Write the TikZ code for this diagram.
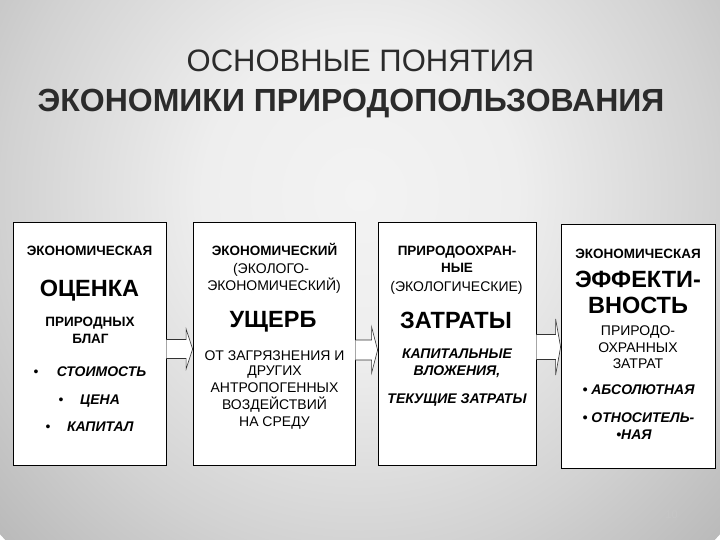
\documentclass[tikz,border=0pt]{standalone}
\usepackage{fontspec}
\setmainfont{Liberation Sans}
\usetikzlibrary{calc}
\definecolor{bgA}{HTML}{F3F3F3}
\definecolor{bgA2}{HTML}{EEEEEE}
\definecolor{bgB}{HTML}{D2D2D2}
\definecolor{bgC}{HTML}{B0B0B0}
\definecolor{bgD}{HTML}{9C9C9C}
\definecolor{bgE}{HTML}{8E8E8E}
\definecolor{titlecol}{HTML}{2B2B2B}
\definecolor{pagecol}{HTML}{C6C6C6}
\pgfdeclareradialshading{bgshade}{\pgfpoint{0bp}{0bp}}{color(0bp)=(bgA); color(8bp)=(bgA2); color(18bp)=(bgB); color(28bp)=(bgC); color(36bp)=(bgD); color(50bp)=(bgE)}
\newcommand\blkarrow[6]{%
  \coordinate (ay) at (0,#3);
  \draw[blockarrow] ($(#1.east |- ay)+(0,-#4)$) -- ($(#2.west |- ay)+(-#6,-#4)$) -- ($(#2.west |- ay)+(-#6,-#5)$) -- (#2.west |- ay) -- ($(#2.west |- ay)+(-#6,#5)$) -- ($(#2.west |- ay)+(-#6,#4)$) -- ($(#1.east |- ay)+(0,#4)$);}
\tikzset{
  box/.style={draw=black, line width=0.8pt, fill=white, inner sep=0pt},
  blockarrow/.style={draw=black!80, line width=0.6pt, fill=white, line join=miter},
  tb/.style={anchor=base, inner sep=0pt, font=\fontsize{13.5}{14}\selectfont\bfseries},
  tr/.style={anchor=base, inner sep=0pt, font=\fontsize{14}{15}\selectfont},
  tbi/.style={anchor=base, inner sep=0pt, font=\fontsize{14}{15}\selectfont\bfseries\itshape},
  tL/.style={anchor=base, inner sep=0pt, font=\fontsize{23.5}{25}\selectfont\bfseries},
  title1/.style={anchor=base, inner sep=0pt, text=titlecol, font=\fontsize{31}{33}\selectfont},
  title2/.style={anchor=base, inner sep=0pt, text=titlecol, font=\fontsize{32}{34}\selectfont\bfseries},
}
\begin{document}
\begin{tikzpicture}[x=1pt,y=-1pt]
\useasboundingbox (0,0) rectangle (720,540);
\begin{scope}
\clip (0,0) rectangle (720,540);
\shade[shading=bgshade] (360,195) ellipse [x radius=490, y radius=500];
\end{scope}
% title
\node[title1] (ttl1) at (360.5,72) {ОСНОВНЫЕ ПОНЯТИЯ};
\node[title2] (ttl2) at (351,112) {ЭКОНОМИКИ ПРИРОДОПОЛЬЗОВАНИЯ};
% boxes
\node[box, minimum width=153pt, minimum height=243pt] (b1) at (89.5,343.5) {};
\node[box, minimum width=162pt, minimum height=243pt] (b2) at (274,343.5) {};
\node[box, minimum width=158pt, minimum height=243pt] (b3) at (457,343.5) {};
\node[box, minimum width=154pt, minimum height=243.5pt] (b4) at (638,346.25) {};
% arrows
\blkarrow{b1}{b2}{349}{9.5}{20}{6.5}
\blkarrow{b2}{b3}{350}{10}{23}{6}
\blkarrow{b3}{b4}{347}{12.5}{28}{5}
% box 1
\node[tb] (a1) at (89.5,255.8) {ЭКОНОМИЧЕСКАЯ};
\node[tL] (a2) at (89.5,296) {ОЦЕНКА};
\node[tb] (a3) at (90,326.8) {ПРИРОДНЫХ};
\node[tb] (a4) at (90.5,343.8) {БЛАГ};
\node[tbi] (a5) at (101.5,376) {СТОИМОСТЬ};
\node[tr] (a5b) at (36,376) {•};
\node[tbi] (a6) at (100,404.5) {ЦЕНА};
\node[tr] (a6b) at (61,404.5) {•};
\node[tbi] (a7) at (100.3,431) {КАПИТАЛ};
\node[tr] (a7b) at (48,431) {•};
% box 2
\node[tb] (c1) at (274.5,255.5) {ЭКОНОМИЧЕСКИЙ};
\node[tr] (c2) at (271,273.6) {(ЭКОЛОГО-};
\node[tr] (c3) at (274,290) {ЭКОНОМИЧЕСКИЙ)};
\node[tL] (c4) at (273,327.4) {УЩЕРБ};
\node[tr] (c5) at (274.5,360) {ОТ ЗАГРЯЗНЕНИЯ И};
\node[tr] (c6) at (274.5,375.5) {ДРУГИХ};
\node[tr] (c7) at (274.5,392.5) {АНТРОПОГЕННЫХ};
\node[tr] (c8) at (274.5,409) {ВОЗДЕЙСТВИЙ};
\node[tr] (c9) at (274.5,426) {НА СРЕДУ};
% box 3
\node[tb] (d1) at (457,255.8) {ПРИРОДООХРАН-};
\node[tb] (d2) at (457,272.8) {НЫЕ};
\node[tr] (d3) at (456.5,291) {(ЭКОЛОГИЧЕСКИЕ)};
\node[tL] (d4) at (456,328) {ЗАТРАТЫ};
\node[tbi] (d5) at (457,358) {КАПИТАЛЬНЫЕ};
\node[tbi] (d6) at (457,375) {ВЛОЖЕНИЯ,};
\node[tbi] (d7) at (457,403.8) {ТЕКУЩИЕ ЗАТРАТЫ};
% box 4
\node[tb] (e1) at (638,258.8) {ЭКОНОМИЧЕСКАЯ};
\node[tL] (e2) at (638,287.4) {ЭФФЕКТИ-};
\node[tL] (e3) at (638,313.4) {ВНОСТЬ};
\node[tr] (e4) at (638,335) {ПРИРОДО-};
\node[tr] (e5) at (638,352) {ОХРАННЫХ};
\node[tr] (e6) at (638,368) {ЗАТРАТ};
\node[tbi] (e7) at (638.5,394) {• АБСОЛЮТНАЯ};
\node[tbi] (e8) at (638.5,422) {• ОТНОСИТЕЛЬ-};
\node[tbi] (e9) at (634,439.6) {•НАЯ};
% page number
\node[anchor=base, inner sep=0pt, text=pagecol, font=\fontsize{11}{12}\selectfont] (pg) at (671.5,518) {10};
\end{tikzpicture}
\end{document}
